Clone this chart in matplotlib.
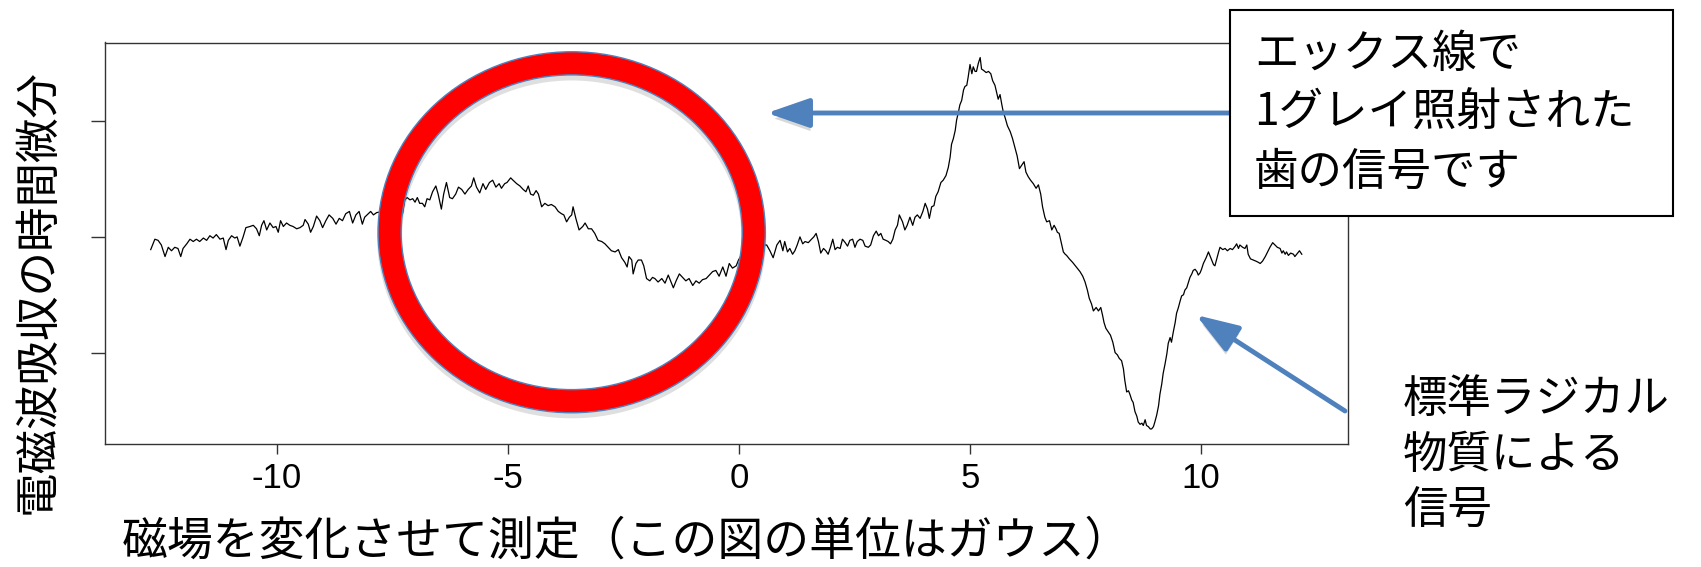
import numpy as np
import matplotlib
matplotlib.use("Agg")
import matplotlib.pyplot as plt
from matplotlib.patches import Ellipse, Rectangle
import matplotlib.patheffects as pe

plt.rcParams['font.family'] = ['Noto Sans CJK JP', 'DejaVu Sans']
plt.rcParams['axes.unicode_minus'] = False

# ESR trace in pieces (field in gauss, signal in tick units)
x_left = [-12.73, -12.64, -12.57, -12.50, -12.42, -12.35, -12.28, -12.21, -12.14, -12.08,
          -12.03, -11.95, -11.88, -11.81, -11.74, -11.67, -11.59, -11.52, -11.45, -11.38,
          -11.31, -11.23, -11.16, -11.10, -11.05, -10.98, -10.91, -10.86, -10.80, -10.73,
          -10.67, -10.58, -10.51, -10.44, -10.38, -10.33, -10.28, -10.22, -10.15, -10.08,
          -10.02, -9.97, -9.92, -9.86, -9.79, -9.72, -9.65, -9.57, -9.50, -9.43,
          -9.39, -9.32, -9.27, -9.21, -9.14, -9.07, -9.01, -8.94, -8.87, -8.79,
          -8.72, -8.65, -8.58, -8.51, -8.43, -8.36, -8.29, -8.22, -8.15, -8.10,
          -8.02, -7.97, -7.91, -7.84, -7.70, -7.55, -7.40]
y_left = [-0.11, -0.02, -0.03, -0.07, -0.17, -0.09, -0.12, -0.09, -0.10, -0.17,
          -0.10, -0.06, -0.02, -0.04, -0.02, -0.04, -0.01, -0.03, 0.01, -0.01,
          0.02, -0.02, -0.01, -0.11, -0.03, 0.01, -0.01, 0.00, -0.08, 0.00,
          0.08, 0.09, 0.10, 0.07, 0.01, 0.10, 0.14, 0.06, 0.12, 0.08,
          0.09, 0.04, 0.14, 0.09, 0.12, 0.10, 0.09, 0.07, 0.08, 0.10,
          0.15, 0.11, 0.04, 0.09, 0.18, 0.14, 0.08, 0.14, 0.19, 0.16,
          0.11, 0.16, 0.14, 0.20, 0.22, 0.12, 0.19, 0.22, 0.11, 0.17,
          0.20, 0.22, 0.19, 0.21, 0.22, 0.24, 0.23]

x_ring = [-7.28, -7.23, -7.18, -7.12, -7.06, -7.01, -6.96, -6.91, -6.85, -6.80,
          -6.75, -6.69, -6.63, -6.56, -6.51, -6.44, -6.39, -6.33, -6.26, -6.20,
          -6.13, -6.07, -6.00, -5.93, -5.86, -5.79, -5.74, -5.68, -5.61, -5.54,
          -5.48, -5.40, -5.33, -5.26, -5.19, -5.14, -5.07, -5.02, -4.94, -4.89,
          -4.81, -4.74, -4.67, -4.61, -4.56, -4.51, -4.45, -4.39, -4.34, -4.27,
          -4.20, -4.13, -4.06, -3.98, -3.91, -3.84, -3.79, -3.73, -3.67, -3.62,
          -3.59, -3.53, -3.46, -3.38, -3.33, -3.26, -3.19, -3.12, -3.05, -2.97,
          -2.90, -2.83, -2.76, -2.68, -2.61, -2.54, -2.47, -2.42, -2.38, -2.32,
          -2.29, -2.23, -2.18, -2.11, -2.06, -2.00, -1.93, -1.87, -1.82, -1.75,
          -1.67, -1.60, -1.53, -1.46, -1.42, -1.36, -1.29, -1.22, -1.15, -1.08,
          -1.00, -0.93, -0.86, -0.79, -0.71, -0.64, -0.57, -0.50, -0.43, -0.35,
          -0.28, -0.21, -0.14, -0.06, -0.01, 0.08, 0.20, 0.32, 0.45]
y_ring = [0.20, 0.32, 0.34, 0.32, 0.33, 0.30, 0.34, 0.29, 0.29, 0.26,
          0.33, 0.32, 0.39, 0.44, 0.37, 0.24, 0.37, 0.47, 0.34, 0.33,
          0.37, 0.43, 0.41, 0.37, 0.41, 0.44, 0.51, 0.43, 0.38, 0.46,
          0.41, 0.47, 0.49, 0.43, 0.46, 0.42, 0.46, 0.47, 0.51, 0.49,
          0.46, 0.44, 0.41, 0.39, 0.44, 0.37, 0.36, 0.40, 0.37, 0.26,
          0.29, 0.27, 0.28, 0.26, 0.22, 0.20, 0.19, 0.13, 0.17, 0.19,
          0.26, 0.16, 0.06, 0.09, 0.12, 0.07, 0.07, 0.03, -0.03, -0.04,
          -0.06, -0.09, -0.12, -0.13, -0.11, -0.18, -0.22, -0.26, -0.17, -0.20,
          -0.32, -0.23, -0.20, -0.20, -0.25, -0.36, -0.38, -0.35, -0.36, -0.39,
          -0.36, -0.40, -0.33, -0.40, -0.44, -0.38, -0.32, -0.35, -0.38, -0.36,
          -0.42, -0.38, -0.40, -0.37, -0.36, -0.33, -0.30, -0.29, -0.34, -0.26,
          -0.34, -0.23, -0.27, -0.25, -0.20, -0.14, -0.09, -0.12, -0.07]

x_mid = [0.60, 0.67, 0.74, 0.82, 0.89, 0.95, 0.99, 1.05, 1.10, 1.16,
         1.21, 1.26, 1.32, 1.38, 1.43, 1.50, 1.57, 1.62, 1.67, 1.72,
         1.77, 1.83, 1.88, 1.93, 1.98, 2.03, 2.08, 2.13, 2.19, 2.24,
         2.30, 2.35, 2.40, 2.46, 2.51, 2.56, 2.62, 2.68, 2.73, 2.80,
         2.85, 2.91, 2.97, 3.02, 3.07, 3.12, 3.18, 3.23, 3.28, 3.33,
         3.38, 3.43, 3.47]
y_mid = [-0.07, -0.12, -0.18, -0.07, -0.03, -0.12, -0.04, -0.13, -0.10, -0.15,
         -0.12, -0.07, 0.00, -0.06, -0.04, -0.05, -0.02, 0.00, 0.03, -0.04,
         -0.14, -0.10, -0.12, -0.15, -0.09, -0.02, -0.11, -0.09, -0.10, -0.02,
         -0.05, -0.08, -0.03, -0.02, -0.09, -0.04, -0.02, -0.03, -0.08, -0.09,
         -0.07, 0.01, 0.05, 0.01, 0.03, -0.02, -0.03, -0.04, -0.06, -0.02,
         0.06, 0.10, 0.19]

x_peak = [3.54, 3.59, 3.64, 3.70, 3.76, 3.81, 3.86, 3.92, 3.98,
          4.03, 4.08, 4.12, 4.17, 4.22, 4.26, 4.31, 4.37, 4.42, 4.48,
          4.53, 4.57, 4.60, 4.64, 4.68, 4.71, 4.75, 4.78, 4.82, 4.86,
          4.89, 4.93, 4.96, 5.00, 5.04, 5.07, 5.11, 5.14, 5.18, 5.22,
          5.25, 5.29, 5.35, 5.40, 5.45, 5.49, 5.54, 5.58, 5.61, 5.65,
          5.69, 5.72, 5.76, 5.81, 5.87, 5.92, 5.98, 6.02, 6.07, 6.12,
          6.17, 6.21, 6.26, 6.31, 6.37, 6.43, 6.48, 6.53, 6.57, 6.62,
          6.66, 6.72, 6.77, 6.82, 6.86, 6.89, 6.93, 6.98, 7.02, 7.06,
          7.09, 7.15, 7.22, 7.30]
y_peak = [0.13, 0.06, 0.10, 0.17, 0.10, 0.17, 0.19, 0.16, 0.22,
          0.29, 0.24, 0.16, 0.26, 0.27, 0.35, 0.39, 0.47, 0.49, 0.53,
          0.60, 0.69, 0.80, 0.85, 0.92, 1.01, 1.08, 1.14, 1.18, 1.27,
          1.30, 1.31, 1.38, 1.49, 1.41, 1.47, 1.43, 1.43, 1.50, 1.55,
          1.45, 1.44, 1.42, 1.43, 1.41, 1.35, 1.31, 1.24, 1.19, 1.23,
          1.14, 1.08, 1.03, 0.96, 0.91, 0.85, 0.76, 0.70, 0.59, 0.62,
          0.65, 0.56, 0.52, 0.49, 0.46, 0.42, 0.45, 0.37, 0.26, 0.17,
          0.13, 0.14, 0.06, 0.10, 0.07, 0.04, 0.03, -0.06, -0.13, -0.15,
          -0.16, -0.19, -0.22, -0.26]

x_right = [7.38, 7.44, 7.49, 7.54, 7.58, 7.63, 7.67, 7.73, 7.78, 7.83,
           7.87, 7.90, 7.94, 7.99, 8.04, 8.09, 8.14, 8.19, 8.23, 8.28,
           8.32, 8.35, 8.39, 8.43, 8.46, 8.50, 8.53, 8.57, 8.61, 8.64,
           8.68, 8.72, 8.75, 8.79, 8.82, 8.86, 8.90, 8.93, 8.97, 9.00,
           9.04, 9.08, 9.11, 9.15, 9.18, 9.22, 9.26, 9.29, 9.33, 9.36,
           9.40, 9.44, 9.47, 9.51, 9.55, 9.58, 9.62, 9.65, 9.69, 9.73,
           9.76, 9.80, 9.83, 9.87, 9.91, 9.94, 9.98, 10.01, 10.05, 10.11,
           10.16, 10.19, 10.23, 10.27, 10.30, 10.34, 10.38, 10.41, 10.47, 10.52,
           10.57, 10.63, 10.68, 10.74, 10.77, 10.81, 10.84, 10.90, 10.95, 10.99,
           11.02, 11.07, 11.13, 11.19, 11.24, 11.28, 11.33, 11.39, 11.44, 11.49,
           11.55, 11.60, 11.65, 11.71, 11.75, 11.78, 11.82, 11.85, 11.89, 11.94,
           12.00, 12.03, 12.09, 12.13, 12.18]
y_right = [-0.30, -0.34, -0.39, -0.46, -0.53, -0.58, -0.64, -0.61, -0.64, -0.61,
           -0.68, -0.74, -0.79, -0.82, -0.85, -0.91, -1.00, -1.02, -1.05, -1.07,
           -1.14, -1.24, -1.34, -1.33, -1.36, -1.41, -1.43, -1.51, -1.55, -1.60,
           -1.62, -1.61, -1.63, -1.58, -1.63, -1.64, -1.66, -1.66, -1.64, -1.60,
           -1.54, -1.46, -1.36, -1.27, -1.18, -1.10, -1.01, -0.92, -0.87, -0.91,
           -0.82, -0.74, -0.66, -0.61, -0.55, -0.51, -0.50, -0.46, -0.44, -0.39,
           -0.35, -0.32, -0.29, -0.28, -0.30, -0.33, -0.31, -0.28, -0.23, -0.18,
           -0.13, -0.16, -0.20, -0.24, -0.25, -0.19, -0.13, -0.09, -0.11, -0.10,
           -0.12, -0.10, -0.11, -0.08, -0.06, -0.10, -0.07, -0.09, -0.10, -0.07,
           -0.15, -0.19, -0.20, -0.21, -0.22, -0.23, -0.21, -0.17, -0.13, -0.09,
           -0.05, -0.07, -0.09, -0.10, -0.14, -0.12, -0.15, -0.13, -0.16, -0.14,
           -0.15, -0.17, -0.14, -0.12, -0.15]

x_ticks = [-10, -5, 0, 5, 10]
y_ticks = [-1, 0, 1]

xlabel = '磁場を変化させて測定（この図の単位はガウス）'
ylabel = '電磁波吸収の時間微分'
box_text = 'エックス線で\n1グレイ照射された\n歯の信号です'
ref_text = '標準ラジカル\n物質による\n信号'

field = np.concatenate([x_left, x_ring, x_mid, x_peak, x_right])
signal = np.concatenate([y_left, y_ring, y_mid, y_peak, y_right])

W, H = 1701, 567
fig = plt.figure(figsize=(W / 100, H / 100), dpi=100)
ax = fig.add_axes([104.5 / W, 1 - 444 / H, (1348 - 104.5) / W, (444 - 42.5) / H])

ax.plot(field, signal, color='black', lw=0.9)
ax.set_xlim(-13.73, 13.18)
ax.set_ylim(-1.79, 1.68)
ax.set_xticks(x_ticks)
ax.set_yticks(y_ticks)
ax.set_yticklabels([])
ax.tick_params(axis='x', length=7, width=1, pad=6, labelsize=25, color='#333333')
ax.tick_params(axis='y', length=10, width=1, color='#333333')
for lab in ax.get_xticklabels():
    lab.set_family(['Liberation Sans Narrow', 'Liberation Sans', 'DejaVu Sans'])
for s in ax.spines.values():
    s.set_color('#333333')
    s.set_linewidth(1)

# red ring around the tooth signal, soft grey shadow under it
ring_xy = (-3.62, 0.04)
ax.add_patch(Ellipse((ring_xy[0], ring_xy[1] - 0.04), 7.88, 2.92, fill=False, ec='gray',
                     alpha=0.25, lw=18, zorder=3, clip_on=False))
ax.add_patch(Ellipse(ring_xy, 7.88, 2.92, fill=False, ec='#ff0000', lw=16.5, zorder=4,
                     clip_on=False))
ax.add_patch(Ellipse(ring_xy, 8.38, 3.12, fill=False, ec='#4f81bd', lw=1, zorder=5,
                     clip_on=False))
ax.add_patch(Ellipse(ring_xy, 7.38, 2.72, fill=False, ec='#4f81bd', lw=1, zorder=5,
                     clip_on=False))

# text box and arrows
fig.add_artist(Rectangle((1230 / W, 1 - 216 / H), 443 / W, 206 / H, transform=fig.transFigure,
                         fc='white', ec='black', lw=1.5, zorder=6))
fig.text(1254 / W, 1 - 113 / H, box_text, fontsize=32, ha='left', va='center',
         linespacing=1.35, zorder=7)
fig.text(1403 / W, 1 - 455 / H, ref_text, fontsize=32, ha='left', va='center',
         linespacing=1.28)

arrow_kw = dict(arrowstyle='-|>,head_length=1.3,head_width=0.45', lw=3.5, color='#4f81bd',
                mutation_scale=20, shrinkA=0, shrinkB=0)
a1 = ax.annotate('', xy=(767 / W, 1 - 113 / H), xytext=(1230 / W, 1 - 113 / H),
                 xycoords='figure fraction', textcoords='figure fraction', arrowprops=arrow_kw,
                 zorder=6)
a2 = ax.annotate('', xy=(1196 / W, 1 - 315 / H), xytext=(1345 / W, 1 - 411 / H),
                 xycoords='figure fraction', textcoords='figure fraction', arrowprops=arrow_kw,
                 zorder=6)
for a in (a1, a2):
    a.arrow_patch.set_path_effects([pe.SimplePatchShadow(offset=(0, -4), shadow_rgbFace='gray',
                                                         alpha=0.3), pe.Normal()])
    a.arrow_patch.set_clip_on(False)

fig.text(38 / W, 1 - 291 / H, ylabel, fontsize=32, rotation=90, ha='center', va='center')
fig.text(122 / W, 1 - 541 / H, xlabel, fontsize=33, ha='left', va='center')

fig.savefig('out.png', dpi=100)
